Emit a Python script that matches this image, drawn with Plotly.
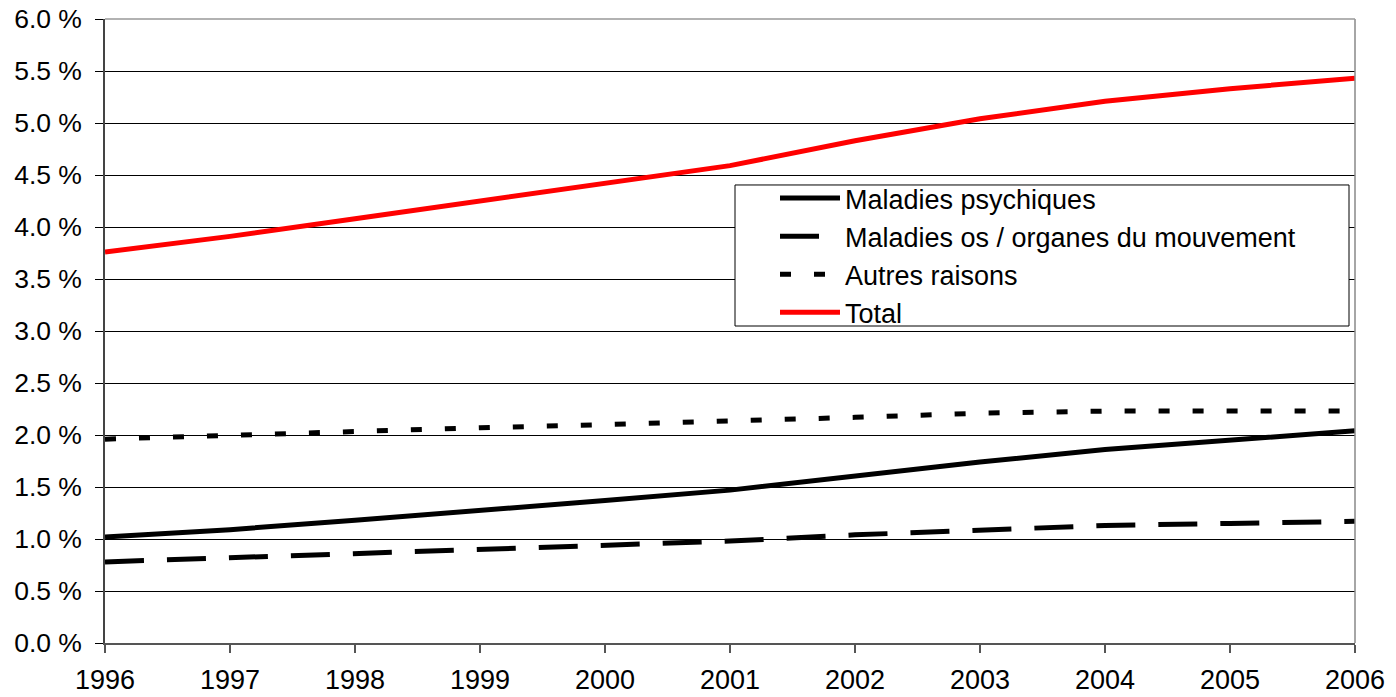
import plotly.graph_objects as go

years = [1996, 1997, 1998, 1999, 2000, 2001, 2002, 2003, 2004, 2005, 2006]
psychiques = [1.02, 1.09, 1.18, 1.27, 1.37, 1.47, 1.61, 1.74, 1.86, 1.95, 2.04]
os_mouvement = [0.78, 0.82, 0.86, 0.90, 0.95, 0.98, 1.04, 1.09, 1.13, 1.15, 1.17]
autres = [1.96, 2.00, 2.03, 2.07, 2.10, 2.13, 2.17, 2.21, 2.23, 2.23, 2.23]
total = [3.76, 3.91, 4.08, 4.25, 4.42, 4.59, 4.83, 5.04, 5.21, 5.33, 5.43]

y_ticks = [0.0, 0.5, 1.0, 1.5, 2.0, 2.5, 3.0, 3.5, 4.0, 4.5, 5.0, 5.5, 6.0]
y_labels = [f"{v:.1f} %" for v in y_ticks]

fig = go.Figure()
fig.add_trace(go.Scatter(x=years, y=psychiques, mode="lines", name="Maladies psychiques",
                         line=dict(color="black", width=5)))
fig.add_trace(go.Scatter(x=years, y=os_mouvement, mode="lines", name="Maladies os / organes du mouvement",
                         line=dict(color="black", width=5, dash="39px,23px")))
fig.add_trace(go.Scatter(x=years, y=autres, mode="lines", name="Autres raisons",
                         line=dict(color="black", width=5, dash="11px,23px")))
fig.add_trace(go.Scatter(x=years, y=total, mode="lines", name="Total",
                         line=dict(color="#ff0000", width=5)))

fig.update_layout(
    width=1396, height=697,
    margin=dict(l=105, r=41, t=19, b=54, autoexpand=False),
    paper_bgcolor="white", plot_bgcolor="white",
    font=dict(family="Liberation Sans, Arial", size=26, color="black"),
    showlegend=True,
    legend=dict(x=0.536, y=0.7516, xanchor="left", yanchor="top",
                borderwidth=0, bgcolor="rgba(0,0,0,0)",
                font=dict(size=27), tracegroupgap=0, itemwidth=60),
)
fig.update_xaxes(range=[1996, 2006], tickmode="array", tickvals=years,
                 ticks="outside", ticklen=8, tickcolor="#555", tickwidth=1.5,
                 tickfont=dict(size=27), ticklabelstandoff=4,
                 showgrid=False, showline=True, linecolor="#555", linewidth=1.5,
                 mirror=False, zeroline=False, automargin=False)
fig.update_yaxes(range=[0, 6], tickmode="array", tickvals=y_ticks, ticktext=y_labels,
                 ticks="outside", ticklen=8, tickcolor="black", tickwidth=1,
                 tickfont=dict(size=26.5), ticklabelstandoff=8,
                 showgrid=True, gridcolor="black", gridwidth=1,
                 showline=True, linecolor="#444", linewidth=1.5, zeroline=False,
                 automargin=False)
# right border and top line in gray
fig.add_shape(type="line", xref="paper", yref="paper", x0=1, x1=1, y0=0, y1=1,
              line=dict(color="#888", width=1.5))
fig.add_shape(type="line", xref="paper", yref="paper", x0=0, x1=1, y0=1, y1=1,
              line=dict(color="#999", width=1.5))
# legend frame
fig.add_shape(type="rect", xref="paper", yref="paper", x0=0.504, x1=0.9952, y0=0.508, y1=0.734,
              line=dict(color="black", width=1), fillcolor="white", layer="above")

fig.write_html("out.html", config={"displayModeBar": False},
               post_script="document.body.style.margin='0';document.body.style.overflow='hidden';")
